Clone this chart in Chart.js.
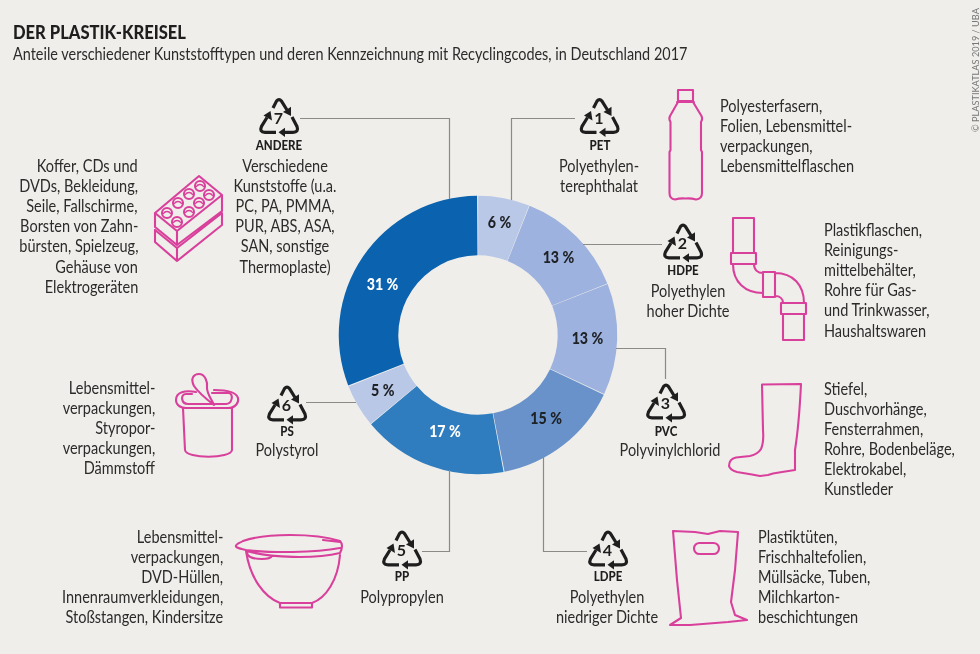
<!DOCTYPE html>
<html lang="de">
<head>
<meta charset="utf-8">
<title>Der Plastik-Kreisel</title>
<script src="https://cdn.jsdelivr.net/npm/chart.js@4"></script>
<style>
  html, body { margin: 0; padding: 0; background: #f0eeea; }
  #page { position: relative; width: 980px; height: 654px; overflow: hidden; background: #f0eeea; color: #2b2b2b;
          font-family: Lato, "Noto Sans", sans-serif; font-size: 16.5px; }
  #chart, #art { position: absolute; left: 0; top: 0; }
  .t { position: absolute; white-space: nowrap; line-height: 20px; }
  .title { font-weight: 900; font-size: 18px; color: #1e1e1e; }
  .code { font-weight: 900; font-size: 12.5px; color: #1e1e1e; }
  .digit { font-weight: 700; font-size: 16px; color: #1e1e1e; }
</style>
</head>
<body>
<div id="page">
  <canvas id="chart" width="980" height="654"></canvas>
  <svg id="art" width="980" height="654" viewBox="0 0 980 654" fill="none"></svg>
</div>
<script>
const titleText = 'DER PLASTIK-KREISEL';
const subtitleText = 'Anteile verschiedener Kunststofftypen und deren Kennzeichnung mit Recyclingcodes, in Deutschland 2017';
const creditText = '© PLASTIKATLAS 2019 / UBA';

// clockwise from the top
const categories = ['PET', 'HDPE', 'PVC', 'LDPE', 'PP', 'PS', 'ANDERE'];
const shares = [6, 13, 13, 15, 17, 5, 31];
const recyclingCodes = ['1', '2', '3', '4', '5', '6', '7'];
const sliceColors = ['#b9c8e7', '#9db2de', '#9db2de', '#6892c9', '#2f7cbe', '#b9c8e7', '#0b62ae'];
const labelColors = ['#1e2126', '#1e2126', '#1e2126', '#1e2126', '#ffffff', '#1e2126', '#ffffff'];

const polymerNames = [
  ['Polyethylen-', 'terephthalat'],
  ['Polyethylen', 'hoher Dichte'],
  ['Polyvinylchlorid'],
  ['Polyethylen', 'niedriger Dichte'],
  ['Polypropylen'],
  ['Polystyrol'],
  ['Verschiedene', 'Kunststoffe (u.a.', 'PC, PA, PMMA,', 'PUR, ABS, ASA,', 'SAN, sonstige', 'Thermoplaste)']
];
const usageNotes = [
  ['Polyesterfasern,', 'Folien, Lebensmittel-', 'verpackungen,', 'Lebensmittelflaschen'],
  ['Plastikflaschen,', 'Reinigungs-', 'mittelbehälter,', 'Rohre für Gas-', 'und Trinkwasser,', 'Haushaltswaren'],
  ['Stiefel,', 'Duschvorhänge,', 'Fensterrahmen,', 'Rohre, Bodenbeläge,', 'Elektrokabel,', 'Kunstleder'],
  ['Plastiktüten,', 'Frischhaltefolien,', 'Müllsäcke, Tuben,', 'Milchkarton-', 'beschichtungen'],
  ['Lebensmittel-', 'verpackungen,', 'DVD-Hüllen,', 'Innenraumverkleidungen,', 'Stoßstangen, Kindersitze'],
  ['Lebensmittel-', 'verpackungen,', 'Styropor-', 'verpackungen,', 'Dämmstoff'],
  ['Koffer, CDs und', 'DVDs, Bekleidung,', 'Seile, Fallschirme,', 'Borsten von Zahn-', 'bürsten, Spielzeug,', 'Gehäuse von', 'Elektrogeräten']
];

// page layout, same order as categories
const symbolAt = [[579.5, 97.5], [663, 223], [646, 383], [588, 530], [382, 530], [267, 385], [259, 97.5]];
const codeY = [146, 271, 432, 577, 577, 432, 146];
const nameAt = [[599, 166], [688, 291], [670, 450], [607, 597], [402, 597], [287, 450], [285, 166]];
const noteAt = [[720, 106, 'l'], [824, 230, 'l'], [824, 388.5, 'l'], [758, 537, 'l'], [223, 537, 'r'], [155, 388, 'r'], [138, 166, 'r']];
const leaders = [
  'M575 118.5H511.5V200', 'M583 244.5H662', 'M616 348.5H665.5V379', 'M543.5 457V551.5H587',
  'M449.5 470V551.5H422', 'M306 402.5H356', 'M300 118.5H449.5V199'
];
const labelNudge = [[1, -5], [3, 0], [0, 0], [1, -3], [4, -6], [-1, 0], [-5, 11]];

const TEXT_SCALE = 0.88;
const page = document.getElementById('page');
const art = document.getElementById('art');

function addText(str, x, y, align, cls, scale) {
  const el = document.createElement('div');
  el.className = 't ' + (cls || '');
  el.textContent = str;
  el.style.top = y + 'px';
  const s = scale || TEXT_SCALE;
  if (align === 'r') {
    el.style.right = (980 - x) + 'px';
    el.style.transformOrigin = 'right center';
    el.style.transform = 'translateY(-50%) scaleX(' + s + ')';
  } else if (align === 'c') {
    el.style.left = x + 'px';
    el.style.transform = 'translate(-50%,-50%) scaleX(' + s + ')';
  } else {
    el.style.left = x + 'px';
    el.style.transformOrigin = 'left center';
    el.style.transform = 'translateY(-50%) scaleX(' + s + ')';
  }
  page.appendChild(el);
  return el;
}

function addLines(lines, x, y, align) {
  lines.forEach((line, i) => addText(line, x, y + i * 20.1, align));
}

addText(titleText, 13, 32, 'l', 'title', 0.92);
addText(subtitleText, 13, 54, 'l', '', 0.875);
const credit = addText(creditText, 0, 0, 'l');
credit.style.fontSize = '10px';
credit.style.color = '#77787a';
credit.style.left = '975px';
credit.style.top = '132px';
credit.style.transformOrigin = 'left center';
credit.style.transform = 'translateY(-50%) rotate(-90deg) scaleX(0.92)';

categories.forEach((code, i) => {
  addText(code, symbolAt[i][0] + 20, codeY[i], 'c', 'code', 0.92);
  addText(recyclingCodes[i], symbolAt[i][0] + 19.5, symbolAt[i][1] + 20, 'c', 'digit', 1);
  addLines(polymerNames[i], nameAt[i][0], nameAt[i][1], 'c');
  addLines(usageNotes[i], noteAt[i][0], noteAt[i][1], noteAt[i][2]);
});

// recycling triangle drawn once and reused
const arrows =
  '<g stroke="#1e1e1e" stroke-width="3.2" stroke-linejoin="round" stroke-linecap="butt">' +
  '<path d="M14 10.5L17.5 3.6Q20 .8 22.5 3.6L28 12.5"/>' +
  '<path d="M33 19.5L38 29Q40 34.8 34 34.8H25"/>' +
  '<path d="M17 34.8H6Q0 34.8 2.5 28.8L8 20"/></g>' +
  '<g fill="#1e1e1e"><path d="M32 18.5L24 14.5 32 9.2Z"/><path d="M19.5 34.8L26 30.2V39.4Z"/><path d="M11.5 13.5L4.5 18 13 23Z"/></g>';

let svg = '';
leaders.forEach(d => { svg += '<path d="' + d + '" stroke="#8a8a86" stroke-width="1.2"/>'; });
symbolAt.forEach(p => { svg += '<g transform="translate(' + p[0] + ' ' + p[1] + ')">' + arrows + '</g>'; });

// product pictograms
const brickStuds = [[167, 213], [177, 222], [178, 203], [189, 212], [189, 194], [199, 203], [200, 186], [209, 195]];
svg += '<g stroke="#d8409c" stroke-width="2.1" stroke-linejoin="round" stroke-linecap="round">' +
  // bottle
  '<path d="M678 90H693V101H678ZM677 102H694"/>' +
  '<path d="M678 102L670 116Q668.5 119 670.5 122V150L669.5 152V193Q669.5 199 675 199.5Q680 198 685.5 198.5Q691 198 696 199.5Q702 199 702 193V152L701 150V122Q703 119 701.5 116L693 102"/>' +
  // pipe
  '<path d="M733 253V218H754V253M731 253H756V264H731ZM733 264C733 282 745 293 763 293M754 264C754 270 758 273 763 273M763 272H775V297H763ZM775 273C793 273 804 285 804 303M775 296C780 296 783 299 783 303M781 303H806V314H781ZM783 314V340H804V314"/>' +
  // boot
  '<path d="M762 384.5L801 384Q799 425 795 450L795 470L782 472L773 473.5L768 475L760 476L752 474.5L737 472Q730 470 729 466Q729 459 736 457.5L750 456Q758 454 761 449Q764 442 763 430Z"/>' +
  // bag
  '<path d="M673 531L695 532L708 534L720 531L738 532L735 570L731 602L735 615L747 620L728 622L690 625L670 625L681 618L677 580Z"/>' +
  '<rect x="694" y="543" width="25" height="11" rx="5.5"/>' +
  // bowl
  '<path d="M243 541C265 533 315 533 340 541C343 544 342 549 340 553M243 541C240 543 235 544 236 546.5C238 549 243 549 246 550C270 553 315 553 340 548M323 540L340 542M247 551C270 558 315 559 340 553M247 553C248 558 256 559 262 559C268 559 271 558 272 556M246 551C250 578 264 597 280 603M280 603H312V607.5H280ZM312 603C326 598 338 580 340 555"/>' +
  // yogurt cup
  '<path d="M196 392C185 390 176 392 176 400C176 406 182 408 186 408H228C236 408 239 402 238 398C236 391 225 390 214 390"/>' +
  '<path d="M192 394H186C180 394 181 404 188 404H226C232 404 234 394 229 393H212"/>' +
  '<path d="M183 408L185 450C186 459 231 459 232 450L232 408"/>' +
  '<path d="M214 405C205 398 198 392 194 386C190 378 194 374 199 374C205 374 208 382 207 388C207 394 212 400 214 405Z"/>' +
  // bricks
  '<path d="M155 213L199 176L222 195L177 231ZM155 213V227L177 245V231M222 195V211L177 245M155 230V242L177 261L222 225V213L177 248L155 230M177 248V261"/>';
brickStuds.forEach(c => {
  svg += '<circle cx="' + c[0] + '" cy="' + c[1] + '" r="5"/><path d="M' + (c[0] - 3.5) + ' ' + (c[1] + .5) + 'A4 4 0 0 1 ' + (c[0] + 3.5) + ' ' + (c[1] + .5) + '" stroke-width="1.4"/>';
});
svg += '</g>';
art.innerHTML = svg;

// percentage labels sit on the slices, hand-nudged like the print version
const sliceLabels = {
  id: 'sliceLabels',
  afterDatasetsDraw(chart) {
    const ctx = chart.ctx;
    ctx.save();
    ctx.font = '900 16.5px Lato';
    ctx.textAlign = 'center';
    ctx.textBaseline = 'middle';
    chart.getDatasetMeta(0).data.forEach((arc, i) => {
      const pos = arc.tooltipPosition();
      ctx.save();
      ctx.translate(pos.x + labelNudge[i][0], pos.y + labelNudge[i][1]);
      ctx.scale(0.86, 1);
      ctx.fillStyle = labelColors[i];
      ctx.fillText(shares[i] + ' %', 0, 0);
      ctx.restore();
    });
    ctx.restore();
  }
};

new Chart(document.getElementById('chart').getContext('2d'), {
  type: 'doughnut',
  data: {
    labels: categories,
    datasets: [{
      data: shares,
      backgroundColor: sliceColors,
      borderWidth: 0,
      spacing: 1.5
    }]
  },
  options: {
    responsive: false,
    animation: false,
    radius: 138.5,
    cutout: '57%',
    layout: { padding: { left: 328, right: 352, top: 185, bottom: 169 } },
    plugins: { legend: { display: false }, tooltip: { enabled: false } }
  },
  plugins: [sliceLabels]
});
</script>
</body>
</html>
